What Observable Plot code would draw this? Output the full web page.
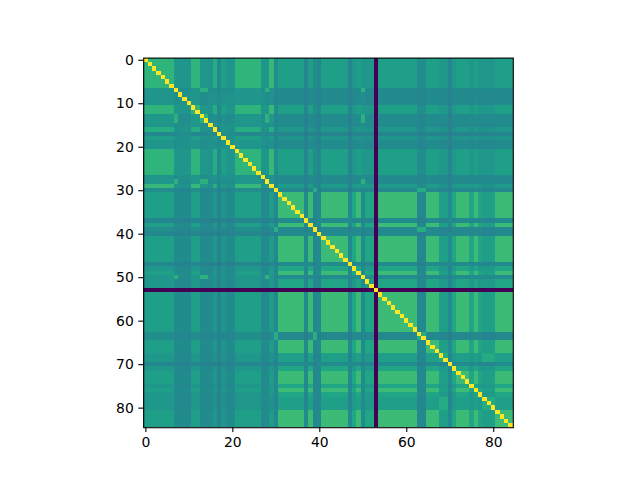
<!doctype html>
<html><head><meta charset="utf-8">
<style>html,body{margin:0;padding:0;background:#fff}svg{display:block}</style>
<script src="https://cdn.jsdelivr.net/npm/d3@7"></script>
<script src="https://cdn.jsdelivr.net/npm/@observablehq/plot@0.6"></script>
</head><body><div id="c"></div>
<script>
// Band of each of the 85 variables (same order on both axes)
const bandOfIndex = "AAAAAAACdddAACCdGemddAAAAAAdCFDBBBBBBXBDXBBBBBBXnBCnnPBBBBBBBBBDDBBBEEXnBBBnBnEEEBBBB";
const bandNames = ["A","G","F","C","d","e","m","D","B","X","n","E"];
// Estimated correlation x100 between bands (upper triangle)
const levels = [
 [65,62,67,53,52,47,56,49,56,46,53,53],
 [58,63,51,50,46,53,48,53,45,51,51],
 [64,53,51,47,54,48,55,46,53,51],
 [64,49,46,51,46,48,44,48,48],
 [51,49,51,46,48,44,47,47],
 [49,49,44,45,42,45,45],
 [52,47,52,45,50,50],
 [62,47,43,47,46],
 [68,48,59,56],
 [48,46,46],
 [54,54],
 [61]
];
const emptyIndex = 53;   // constant variable: no correlation with anything
const xTicks = [0,20,40,60,80];
const yTicks = [0,10,20,30,40,50,60,70,80];

const indices = d3.range(bandOfIndex.length);
function level(a,b){
  const i = bandNames.indexOf(a), j = bandNames.indexOf(b);
  const lo = Math.min(i,j), hi = Math.max(i,j);
  return levels[lo][hi-lo]/100;
}
const cells = indices.flatMap(r => indices.map(c => ({
  r, c,
  v: r===c ? 1 : (r===emptyIndex||c===emptyIndex) ? 0 : level(bandOfIndex[r],bandOfIndex[c])
})));

const chart = Plot.plot({
  width:640, height:480,
  marginLeft:143.2, marginRight:127.2, marginTop:57.6, marginBottom:52.8,
  style:{fontFamily:"DejaVu Sans",fontSize:"13.9px",background:"#fff",color:"#000"},
  x:{type:"band",domain:indices,padding:0,round:false,label:null},
  y:{type:"band",domain:indices,padding:0,round:false,label:null},
  color:{type:"linear",scheme:"viridis",domain:[0,1]},
  marks:[
    Plot.cell(cells,{x:"c",y:"r",fill:"v",shapeRendering:"crispEdges"}),
    Plot.frame({stroke:"#000",strokeWidth:1.1}),
    Plot.axisX({ticks:xTicks,anchor:"bottom",tickSize:4.9,tickPadding:5,label:null,strokeWidth:1.1}),
    Plot.axisY({ticks:yTicks,anchor:"left",tickSize:4.9,tickPadding:5,label:null,strokeWidth:1.1})
  ]
});
document.getElementById("c").append(chart);
</script></body></html>
